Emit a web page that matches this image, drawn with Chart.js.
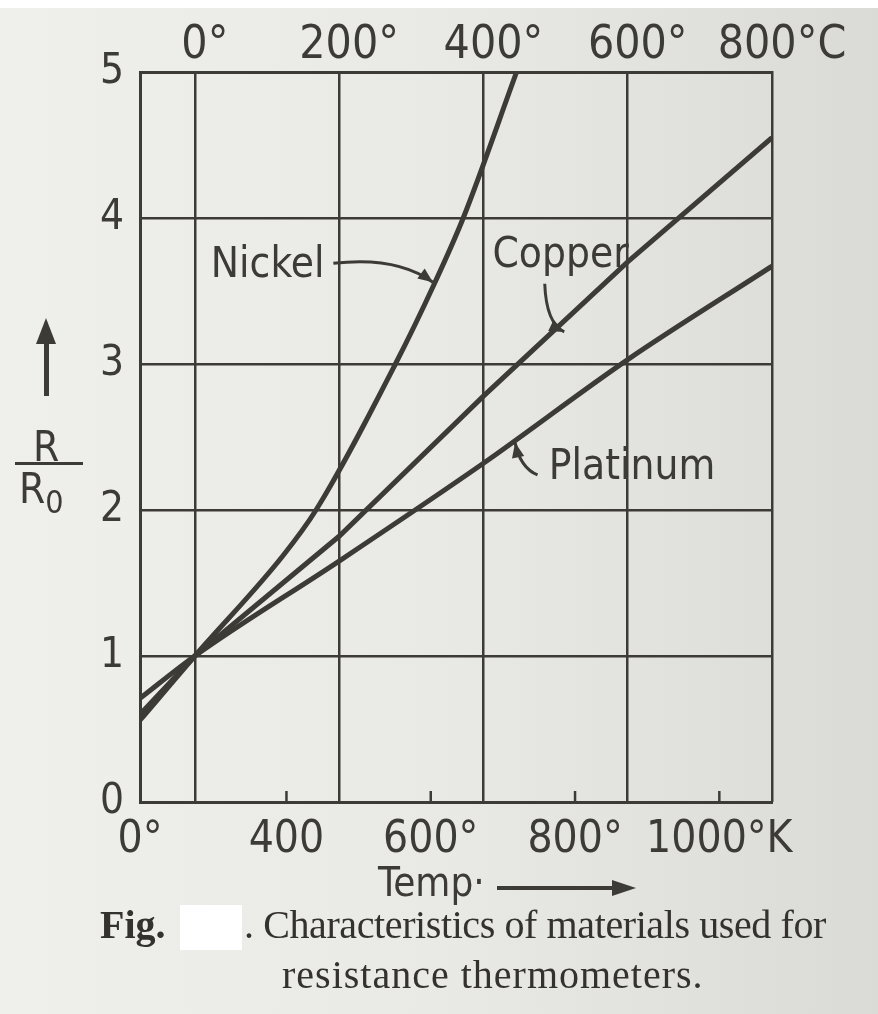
<!DOCTYPE html>
<html>
<head>
<meta charset="utf-8">
<script src="https://cdn.jsdelivr.net/npm/chart.js@4.4.0/dist/chart.umd.min.js"></script>
<style>
  html, body { margin: 0; padding: 0; }
  body {
    width: 878px; height: 1014px; position: relative; overflow: hidden;
    background: linear-gradient(90deg, #efefec 0%, #e9e9e6 50%, #dadad7 100%);
    color: #3d3b35;
  }
  #topStrip { position: absolute; left: 0; top: 0; width: 878px; height: 8px; background: #fff; }
  #wrap { position: absolute; left: 0; top: 0; width: 878px; height: 1014px; }
  .letter { position: absolute; font-family: 'DejaVu Sans Condensed', 'Liberation Sans Narrow', 'DejaVu Sans', sans-serif; font-size: 42px; line-height: 1; }
  .ink { position: absolute; background: #3d3b35; }
  .caption { position: absolute; font-family: 'Liberation Serif', 'DejaVu Serif', serif; font-size: 40px; color: #34322d; white-space: nowrap; line-height: 1; }
</style>
</head>
<body>
<div id="topStrip"></div>
<div id="wrap"><canvas id="chart-1"></canvas></div>

<!-- y axis title: arrow up, R over R0 -->
<div class="ink" style="left:44px; top:338px; width:5px; height:58px;"></div>
<div style="position:absolute; left:36px; top:318px; width:0; height:0; border-left:10px solid transparent; border-right:10px solid transparent; border-bottom:26px solid #3d3b35;"></div>
<div class="letter" style="left:33px; top:426px;">R</div>
<div class="ink" style="left:15px; top:462px; width:68px; height:3px;"></div>
<div class="letter" style="left:19px; top:468px;">R<span style="font-size:32px; position:relative; top:10px;">0</span></div>

<!-- x axis title -->
<div class="letter" style="left:378px; top:862px; font-size:40px;">Temp·</div>
<div class="ink" style="left:497px; top:886px; width:120px; height:4px;"></div>
<div style="position:absolute; left:612px; top:880px; width:0; height:0; border-top:8px solid transparent; border-bottom:8px solid transparent; border-left:24px solid #3d3b35;"></div>

<!-- caption -->
<div class="caption" style="left:100px; top:905px;"><b>Fig.</b> </div>
<div style="position:absolute; left:180px; top:905px; width:62px; height:45px; background:#fff;"></div>
<div class="caption" style="left:244px; top:905px; letter-spacing:-0.4px;">. Characteristics of materials used for</div>
<div class="caption" style="left:282px; top:955px; letter-spacing:1px;">resistance thermometers.</div>

<script>
// temperatures in deg C (top scale), values are R/R0
var nickelTemp = [-76, 0, 121, 168, 278, 332, 372, 446];
var nickelR    = [0.56, 1.0, 1.68, 2.0, 3.0, 3.55, 4.0, 5.0];

var copperTemp = [-76, 0, 200, 400, 600, 800];
var copperR    = [0.6, 1.0, 1.82, 2.78, 3.7, 4.55];

var platinumTemp = [-76, 0, 200, 400, 600, 800];
var platinumR    = [0.71, 1.0, 1.65, 2.32, 3.03, 3.67];

var celsiusTicks = [0, 200, 400, 600, 800];
var kelvinTicks  = [197, 400, 600, 800, 1000];
var kelvinLabels = ['0°', '400', '600°', '800°', '1000°K'];
var rTicks = [0, 1, 2, 3, 4, 5];

var INK = '#3d3b35';
var FONT = "'DejaVu Sans Condensed', 'Liberation Sans Narrow', 'DejaVu Sans', sans-serif";

function toPoints(xs, ys) {
    return xs.map(function (x, i) { return { x: x, y: ys[i] }; });
}

// little inner tick marks on the kelvin scale + curve labels with arrows
var inkPlugin = {
    id: 'ink',
    afterDatasetsDraw: function (chart) {
        var ctx = chart.ctx;
        var sx = chart.scales.x, sy = chart.scales.y, sk = chart.scales.xk;
        var bottom = chart.chartArea.bottom;
        ctx.save();
        ctx.strokeStyle = INK;
        ctx.fillStyle = INK;
        ctx.lineWidth = 2.5;
        kelvinTicks.slice(1).forEach(function (k) {
            var px = sk.getPixelForValue(k);
            ctx.beginPath();
            ctx.moveTo(px, bottom);
            ctx.lineTo(px, bottom - 11);
            ctx.stroke();
        });

        ctx.font = '42px ' + FONT;
        ctx.textAlign = 'center';
        ctx.textBaseline = 'middle';
        ctx.fillText('Nickel', sx.getPixelForValue(101), sy.getPixelForValue(3.67));
        ctx.fillText('Copper', sx.getPixelForValue(507), sy.getPixelForValue(3.74));
        ctx.fillText('Platinum', sx.getPixelForValue(606), sy.getPixelForValue(2.29));

        function arrow(a, c, b) {
            var x0 = sx.getPixelForValue(a[0]), y0 = sy.getPixelForValue(a[1]);
            var cx = sx.getPixelForValue(c[0]), cy = sy.getPixelForValue(c[1]);
            var x1 = sx.getPixelForValue(b[0]), y1 = sy.getPixelForValue(b[1]);
            ctx.lineWidth = 3;
            ctx.beginPath();
            ctx.moveTo(x0, y0);
            ctx.quadraticCurveTo(cx, cy, x1, y1);
            ctx.stroke();
            var ang = Math.atan2(y1 - cy, x1 - cx);
            ctx.beginPath();
            ctx.moveTo(x1, y1);
            ctx.lineTo(x1 - 16 * Math.cos(ang - 0.4), y1 - 16 * Math.sin(ang - 0.4));
            ctx.lineTo(x1 - 16 * Math.cos(ang + 0.4), y1 - 16 * Math.sin(ang + 0.4));
            ctx.closePath();
            ctx.fill();
        }
        arrow([192, 3.69], [280, 3.74], [330, 3.56]);
        arrow([485, 3.55], [487, 3.28], [512, 3.22]);
        arrow([475, 2.24], [451, 2.29], [444, 2.46]);
        ctx.restore();
    }
};

var lineStyle = {
    borderColor: INK,
    backgroundColor: INK,
    borderWidth: 5,
    pointRadius: 0,
    fill: false,
    xAxisID: 'x',
    yAxisID: 'y'
};

var config_1 = {
    type: 'line',
    data: {
        datasets: [
            Object.assign({ label: 'Nickel', data: toPoints(nickelTemp, nickelR), cubicInterpolationMode: 'monotone' }, lineStyle),
            Object.assign({ label: 'Copper', data: toPoints(copperTemp, copperR), tension: 0 }, lineStyle),
            Object.assign({ label: 'Platinum', data: toPoints(platinumTemp, platinumR), cubicInterpolationMode: 'monotone' }, lineStyle)
        ]
    },
    options: {
        responsive: true,
        maintainAspectRatio: false,
        animation: false,
        layout: { padding: { left: 0, top: 0, right: 106, bottom: 142 } },
        plugins: {
            legend: { display: false },
            tooltip: { enabled: false }
        },
        scales: {
            x: {
                type: 'linear',
                position: 'top',
                min: -76,
                max: 800,
                afterBuildTicks: function (s) { s.ticks = celsiusTicks.map(function (v) { return { value: v }; }); },
                afterFit: function (s) { s.height = 72; },
                ticks: {
                    color: INK,
                    font: { family: FONT, size: 46 },
                    padding: -2,
                    maxRotation: 0,
                    labelOffset: 10,
                    callback: function (v) { return v === 800 ? '800°C' : v + '°'; }
                },
                grid: { color: INK, lineWidth: 2.5, drawTicks: false },
                border: { display: true, color: INK, width: 3 }
            },
            xk: {
                type: 'linear',
                position: 'bottom',
                min: 197,
                max: 1073,
                afterBuildTicks: function (s) { s.ticks = kelvinTicks.map(function (v) { return { value: v }; }); },
                afterFit: function (s) { s.height = 70; },
                ticks: {
                    color: INK,
                    font: { family: FONT, size: 44 },
                    padding: 12,
                    maxRotation: 0,
                    autoSkip: false,
                    callback: function (v) { return kelvinLabels[kelvinTicks.indexOf(v)]; }
                },
                grid: { drawOnChartArea: false, drawTicks: false },
                border: { display: true, color: INK, width: 3 }
            },
            y: {
                type: 'linear',
                min: 0,
                max: 5,
                afterBuildTicks: function (s) { s.ticks = rTicks.map(function (v) { return { value: v }; }); },
                afterFit: function (s) { s.width = 140; },
                ticks: {
                    color: INK,
                    font: { family: FONT, size: 42 },
                    padding: 16
                },
                grid: { color: INK, lineWidth: 2.5, drawTicks: false },
                border: { display: true, color: INK, width: 3 }
            }
        }
    },
    plugins: [inkPlugin]
};

var Chart_1 = document.getElementById('chart-1').getContext('2d');
new Chart(Chart_1, config_1);
</script>
</body>
</html>
